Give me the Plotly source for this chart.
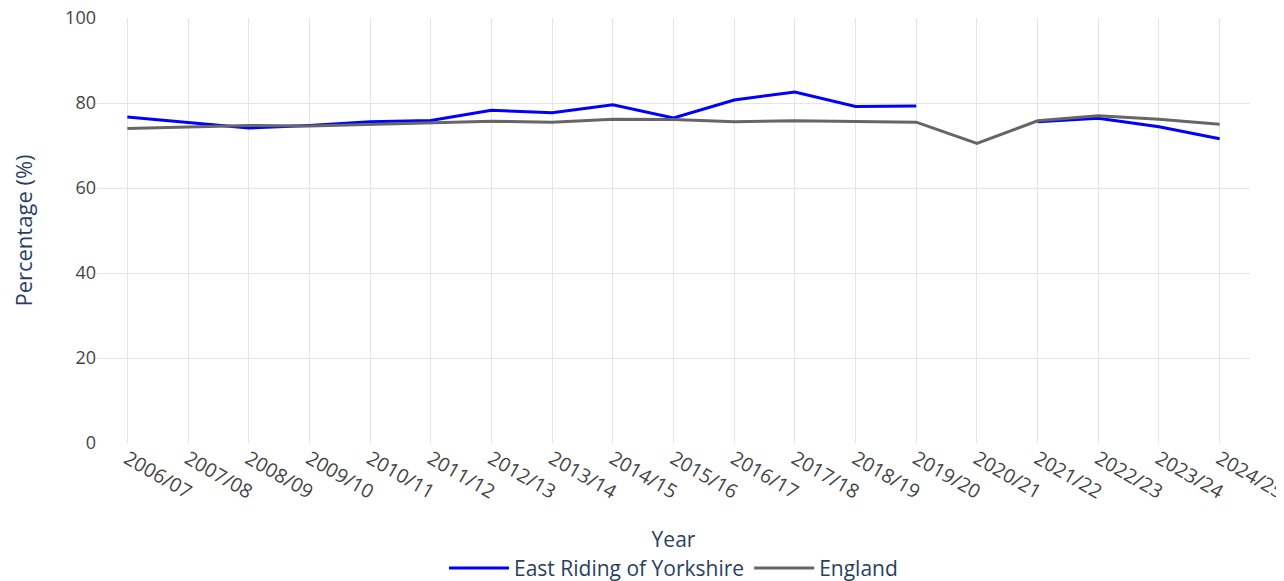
import plotly.graph_objects as go

years = ["2006/07", "2007/08", "2008/09", "2009/10", "2010/11", "2011/12", "2012/13",
         "2013/14", "2014/15", "2015/16", "2016/17", "2017/18", "2018/19", "2019/20",
         "2020/21", "2021/22", "2022/23", "2023/24", "2024/25"]
east_riding = [76.7, 75.4, 74.1, 74.7, 75.6, 75.9, 78.3,
               77.7, 79.6, 76.5, 80.7, 82.6, 79.2, 79.3,
               None, 75.6, 76.4, 74.4, 71.6]
england = [74.0, 74.4, 74.7, 74.6, 75.0, 75.3, 75.7,
           75.5, 76.2, 76.1, 75.6, 75.8, 75.7, 75.5,
           70.5, 75.8, 77.0, 76.2, 75.0]

font_family = "'Open Sans', sans-serif"

fig = go.Figure()
fig.add_trace(go.Scatter(x=years, y=east_riding, mode="lines", name="East Riding of Yorkshire",
                         line=dict(color="#0000FF", width=3)))
fig.add_trace(go.Scatter(x=years, y=england, mode="lines", name="England",
                         line=dict(color="#666666", width=3)))

# page body adds an 8px margin, so the figure is sized to fit the window
fig.update_layout(
    width=1276, height=573,
    margin=dict(l=89, r=34, t=10, b=138, autoexpand=False),
    paper_bgcolor="white", plot_bgcolor="white",
    font=dict(family=font_family, size=18, color="#444444"),
    showlegend=True,
    legend=dict(orientation="h", x=0.5, xanchor="center", y=-0.247, yanchor="top",
                itemwidth=60,
                font=dict(size=21, color="#2a3f5f")),
    xaxis=dict(
        type="category", range=[-0.5, 18.5], automargin=False,
        showgrid=True, gridcolor="#e5e5e5", gridwidth=1,
        tickangle=30, tickfont=dict(size=19.5, color="#444444"),
        ticklabeloverflow="allow",
        title=dict(text="Year", font=dict(size=21, color="#2a3f5f"), standoff=28),
        showline=False, zeroline=False, ticks="",
    ),
    yaxis=dict(
        range=[0, 100], dtick=20, automargin=False,
        showgrid=True, gridcolor="#e5e5e5", gridwidth=1,
        tickfont=dict(size=18, color="#444444"),
        ticklabeloverflow="allow",
        title=dict(text="Percentage (%)", font=dict(size=22, color="#2a3f5f"), standoff=39),
        zeroline=False, showline=False, ticks="",
    ),
)

fig.write_html("out.html")
